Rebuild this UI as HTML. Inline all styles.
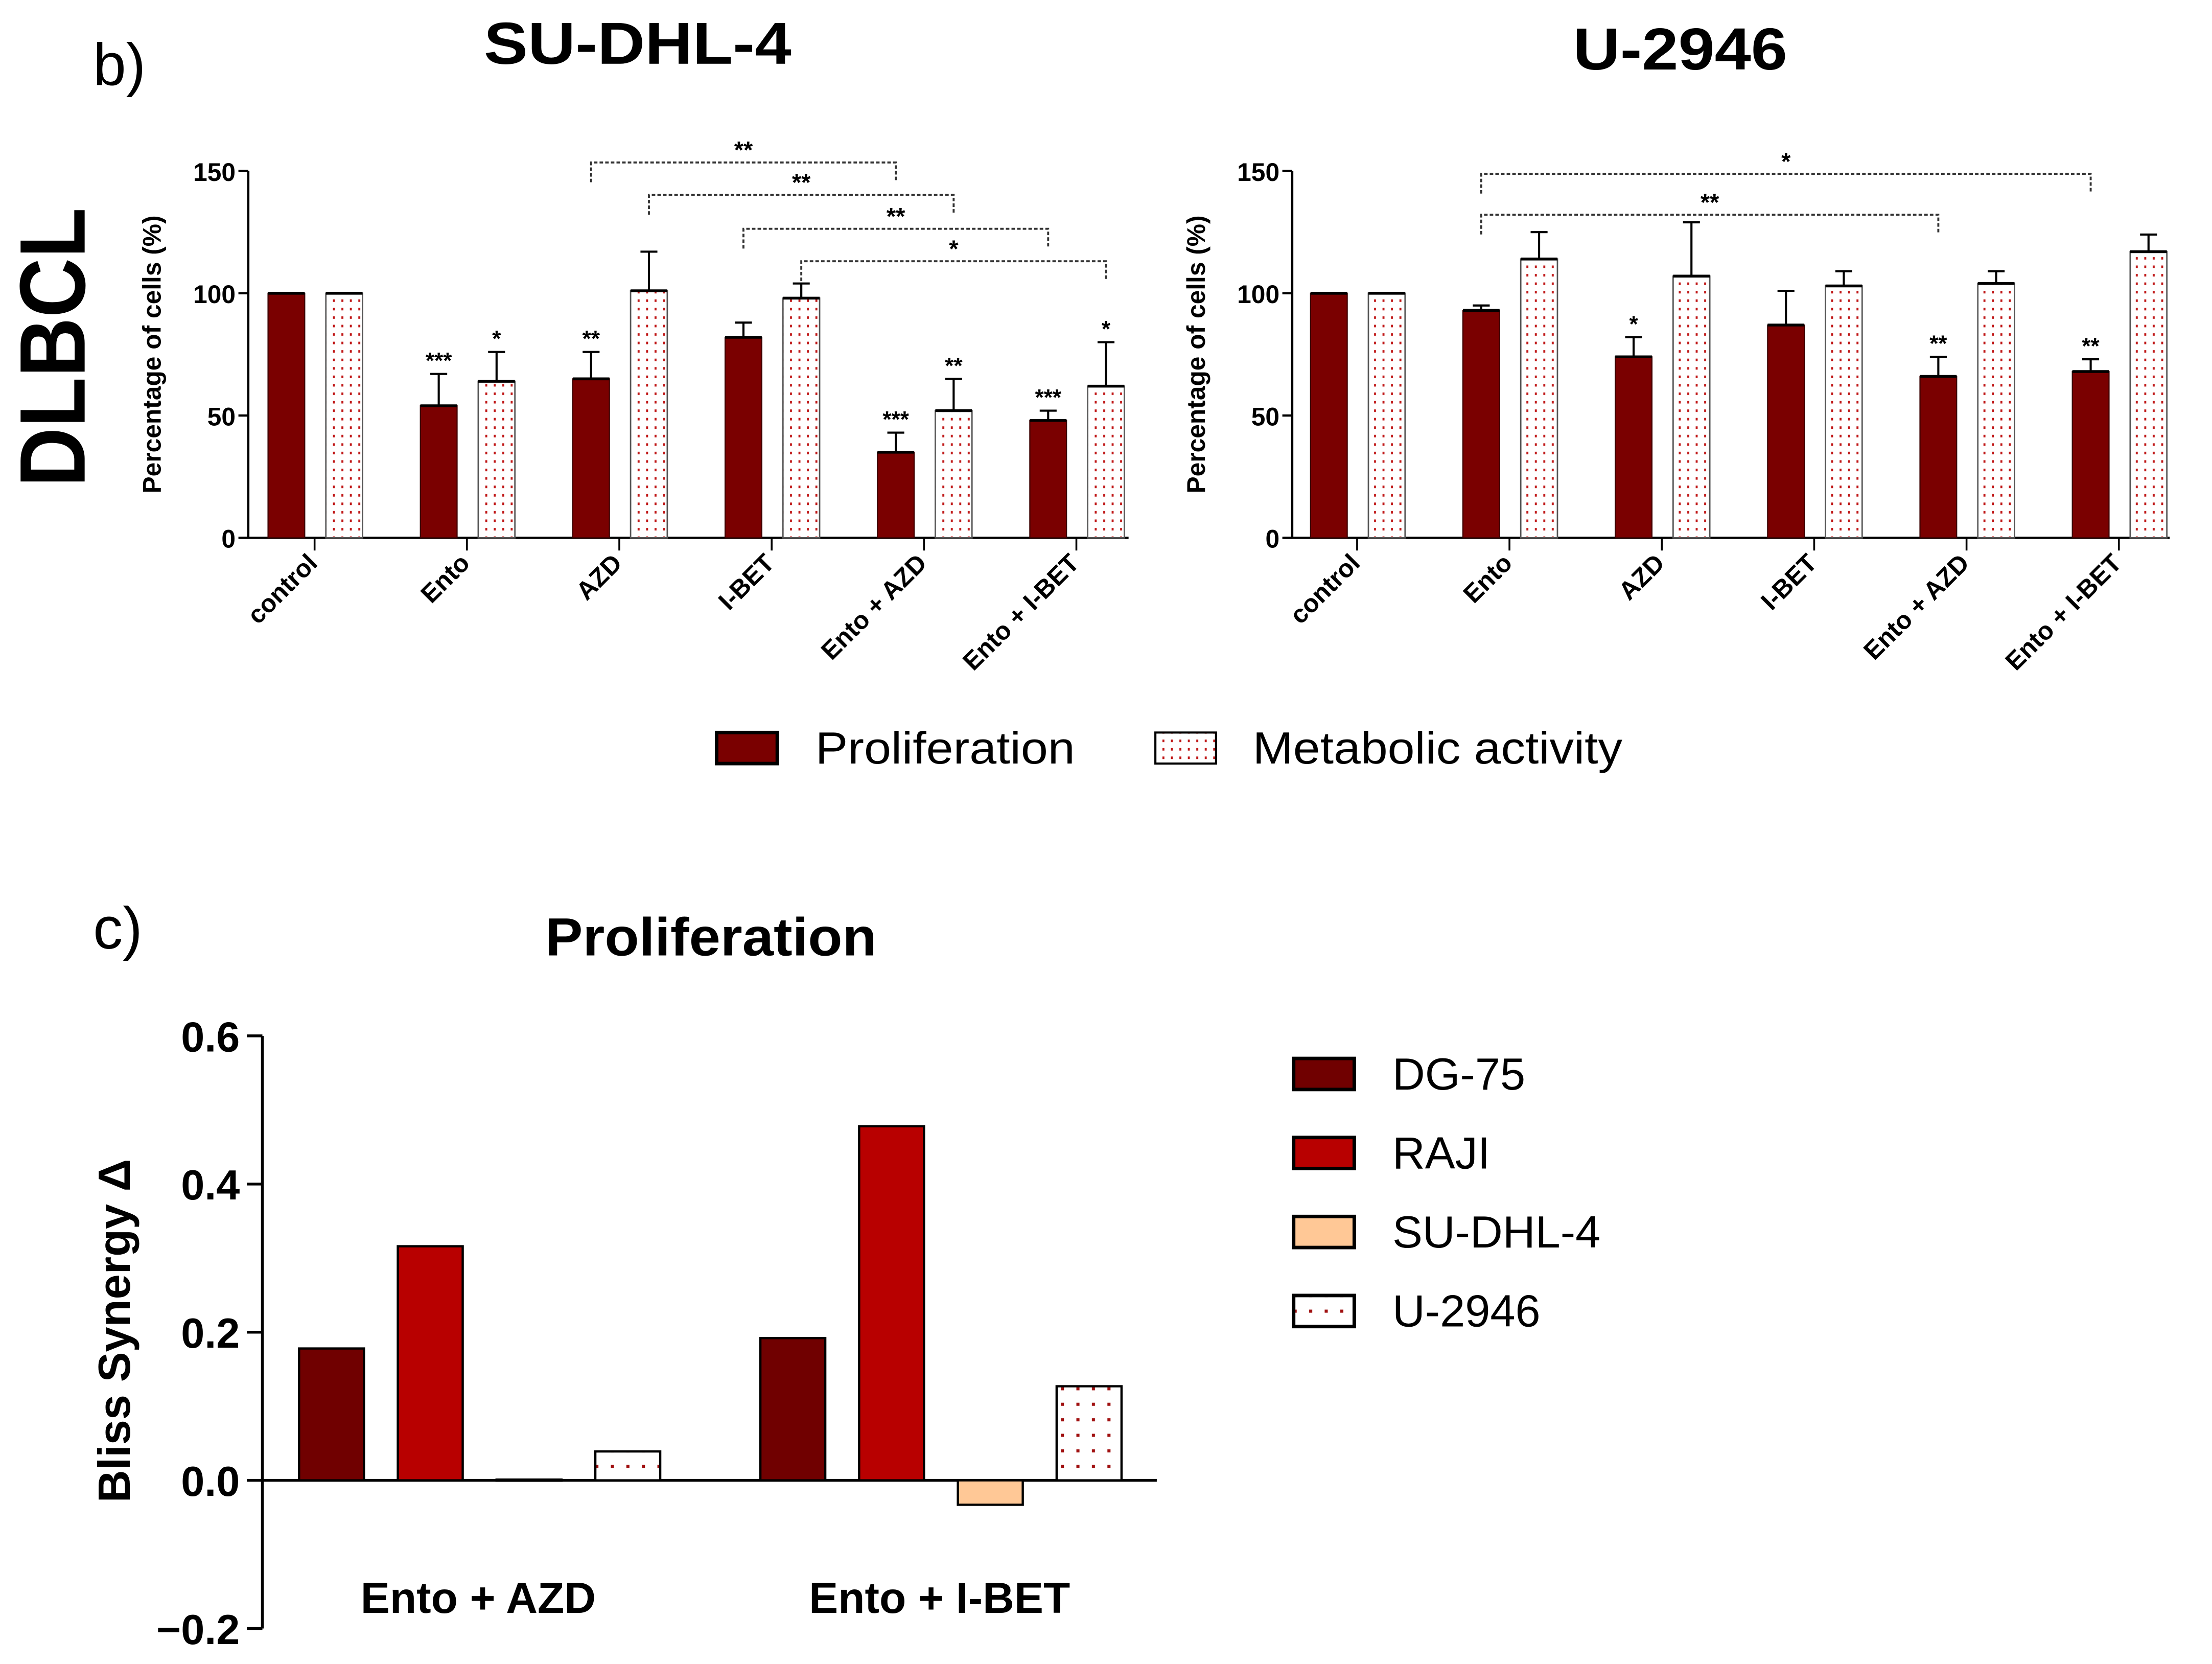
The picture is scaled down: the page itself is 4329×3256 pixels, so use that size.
<!DOCTYPE html>
<html><head><meta charset="utf-8"><style>html,body{margin:0;padding:0;background:#fff}svg{display:block}text{font-family:"Liberation Sans",sans-serif}</style></head>
<body>
<svg id="fig" xmlns="http://www.w3.org/2000/svg" width="4329" height="3256" viewBox="0 0 1568 1179">
<defs>
<pattern id="dots" patternUnits="userSpaceOnUse" width="6" height="6"><rect width="6" height="6" fill="#fff"/><rect x="2" y="2" width="1.4" height="1.8" fill="#c01818"/></pattern>
<pattern id="dots2" patternUnits="userSpaceOnUse" width="11" height="11"><rect width="11" height="11" fill="#fff"/><rect x="4" y="4" width="2.2" height="2.2" fill="#a01010"/></pattern>
</defs>
<rect width="1568" height="1179" fill="#fff"/>
<text x="66" y="60" font-size="42">b)</text>
<text x="66" y="672" font-size="42">c)</text>
<text transform="translate(60,246) rotate(-90)" text-anchor="middle" font-size="66" font-weight="bold" textLength="198" lengthAdjust="spacingAndGlyphs">DLBCL</text>
<text x="452" y="45" text-anchor="middle" font-size="42" font-weight="bold" textLength="218" lengthAdjust="spacingAndGlyphs">SU-DHL-4</text>
<text x="1191" y="49" text-anchor="middle" font-size="42" font-weight="bold" textLength="152" lengthAdjust="spacingAndGlyphs">U-2946</text>
<g id="left"></g><g id="right"></g><g id="bottom"></g>
<g>
<rect x="508" y="519" width="43" height="22" fill="#7a0000" stroke="#000" stroke-width="2.5"/>
<text x="578" y="541" font-size="32" textLength="184" lengthAdjust="spacingAndGlyphs">Proliferation</text>
<rect x="819" y="519" width="43" height="22" fill="url(#dots)" stroke="#000" stroke-width="1.5"/>
<text x="888" y="541" font-size="32" textLength="262" lengthAdjust="spacingAndGlyphs">Metabolic activity</text>
</g>
<text x="504" y="677" text-anchor="middle" font-size="38" font-weight="bold" textLength="235" lengthAdjust="spacingAndGlyphs">Proliferation</text>
</svg>
<script>
// SU-DHL-4 data
const cats = ['control','Ento','AZD','I-BET','Ento + AZD','Ento + I-BET'];
const suProlif = [100,54,65,82,35,48];
const suProlifErr = [0,13,11,6,8,4];
const suMetab = [100,64,101,98,52,62];
const suMetabErr = [0,12,16,6,13,18];
const suProlifStars = ['','***','**','','***','***'];
const suMetabStars = ['','*','','','**','*'];
// U-2946 data
const uProlif = [100,93,74,87,66,68];
const uProlifErr = [0,2,8,14,8,5];
const uMetab = [100,114,107,103,104,117];
const uMetabErr = [0,11,22,6,5,7];
const uProlifStars = ['','','*','','**','**'];
const uMetabStars = ['','','','','',''];
const yTicks = [0,50,100,150];
// brackets: [fromGroup, fromSeries(0 prolif/1 metab), toGroup, toSeries, label]
const suBrackets = [[2,0,4,0,'**'],[2,1,4,1,'**'],[3,0,5,0,'**'],[3,1,5,1,'*']];
const uBrackets = [[1,0,5,0,'*'],[1,0,4,0,'**']];
// Bliss synergy
const groups = ['Ento + AZD','Ento + I-BET'];
const lines = ['DG-75','RAJI','SU-DHL-4','U-2946'];
const blissAZD = [0.178,0.316,0.001,0.039];
const blissIBET = [0.192,0.478,-0.033,0.127];
const blissTicks = [-0.2,0.0,0.2,0.4,0.6];
const blissTickLabels = ['\u22120.2','0.0','0.2','0.4','0.6'];

const NS='http://www.w3.org/2000/svg';
function mk(parent,tag,attrs,txt){const e=document.createElementNS(NS,tag);for(const k in attrs)e.setAttribute(k,attrs[k]);if(txt!==undefined)e.textContent=txt;parent.appendChild(e);return e;}

function barChart(gid,axisX,c0,xEnd,prol,prolE,met,metE,pS,mS,brackets,brY,name){
  const g=document.getElementById(gid);
  
  
  const y=v=>381-v*260/150;
  const cx=i=>c0+108*i;
  const px=i=>cx(i)-33, mx=i=>cx(i)+8;
  let e=mk(g,'line',{x1:axisX,y1:121,x2:axisX,y2:381,stroke:'#000','stroke-width':1.6});
  
  
  e=mk(g,'line',{x1:axisX-6,y1:381,x2:xEnd,y2:381,stroke:'#000','stroke-width':1.6});
  
  
  yTicks.forEach(t=>{
    e=mk(g,'line',{x1:axisX-7,y1:y(t),x2:axisX,y2:y(t),stroke:'#000','stroke-width':1.6});
    
    
    e=mk(g,'text',{x:axisX-9,y:y(t)+7,'text-anchor':'end','font-size':18,'font-weight':'bold'},t);
    
    
  });
  e=mk(g,'text',{transform:`translate(${axisX-62},251) rotate(-90)`,'text-anchor':'middle','font-size':18,'font-weight':'bold'},'Percentage of cells (%)');
  
  
  cats.forEach((c,i)=>{
    e=mk(g,'line',{x1:cx(i),y1:381,x2:cx(i),y2:390,stroke:'#000','stroke-width':1.3});
    
    
    e=mk(g,'text',{transform:`translate(${cx(i)+3},400) rotate(-45)`,'text-anchor':'end','font-size':18,'font-weight':'bold'},c);
    
    
    [[prol,prolE,pS,px(i),'#7a0000',2,'proliferation'],[met,metE,mS,mx(i),'url(#dots)',1,'metabolic']].forEach(([v,er,st,x,fill,sw,nm])=>{
      if(er[i]>0){
        e=mk(g,'path',{d:`M${x+13},${y(v[i])} V${y(v[i]+er[i])} M${x+7},${y(v[i]+er[i])} H${x+19}`,stroke:'#000','stroke-width':1.5,fill:'none'});
        
        
      }
      e=mk(g,'rect',{x:x,y:y(v[i]),width:26,height:381-y(v[i]),fill:fill,stroke:sw===2?'#3a0000':'#555','stroke-width':sw===2?0.8:1});
      
      
      e=mk(g,'line',{x1:x,y1:y(v[i]),x2:x+26,y2:y(v[i]),stroke:'#000','stroke-width':2});
      
      
      if(st[i]){
        e=mk(g,'text',{x:x+13,y:y(v[i]+er[i])-4,'text-anchor':'middle','font-size':16,'font-weight':'bold'},st[i]);
        
        
      }
    });
  });
  brackets.forEach((b,k)=>{
    const x1=(b[1]?mx(b[0]):px(b[0]))+13, x2=(b[3]?mx(b[2]):px(b[2]))+13, yy=brY[k];
    e=mk(g,'path',{d:`M${x1},${yy+14} V${yy} H${x2} V${yy+14}`,stroke:'#333','stroke-width':1.4,fill:'none','stroke-dasharray':'2.5,1.5'});
    
    
    e=mk(g,'text',{x:(x1+x2)/2,y:yy-3,'text-anchor':'middle','font-size':17,'font-weight':'bold'},b[4]);
    
    
  });
}
barChart('left',176,223,800,suProlif,suProlifErr,suMetab,suMetabErr,suProlifStars,suMetabStars,suBrackets,[115,138,162,185],'chart-su-dhl-4');
barChart('right',916,962,1538,uProlif,uProlifErr,uMetab,uMetabErr,uProlifStars,uMetabStars,uBrackets,[123,152],'chart-u-2946');

(function(){
  const g=document.getElementById('bottom');
  
  
  const y=v=>1049-v*525;
  const fills=['#700000','#b80000','#ffc896','url(#dots2)'];
  let e=mk(g,'line',{x1:186,y1:y(-0.2),x2:186,y2:y(0.6),stroke:'#000','stroke-width':2});
  
  
  e=mk(g,'line',{x1:186,y1:1049,x2:820,y2:1049,stroke:'#000','stroke-width':2});
  
  
  blissTicks.forEach((t,i)=>{
    e=mk(g,'line',{x1:175,y1:y(t),x2:186,y2:y(t),stroke:'#000','stroke-width':2});
    
    
    e=mk(g,'text',{x:170,y:y(t)+11,'text-anchor':'end','font-size':30,'font-weight':'bold'},blissTickLabels[i]);
    
    
  });
  e=mk(g,'text',{transform:'translate(92,943) rotate(-90)','text-anchor':'middle','font-size':32,'font-weight':'bold'},'Bliss Synergy \u0394');
  
  
  [blissAZD,blissIBET].forEach((vals,gi)=>{
    const x0=212+327*gi;
    vals.forEach((v,i)=>{
      const x=x0+70*i, top=Math.min(y(v),y(0)), h=Math.max(Math.abs(y(v)-y(0)),0.8);
      e=mk(g,'rect',{x:x,y:top,width:46,height:h,fill:fills[i],stroke:'#000','stroke-width':1.6});
      
      
    });
    e=mk(g,'text',{x:339+327*gi,y:1143,'text-anchor':'middle','font-size':31,'font-weight':'bold'},groups[gi]);
    
    
  });
  lines.forEach((l,i)=>{
    e=mk(g,'rect',{x:917,y:750+56*i,width:43,height:22,fill:fills[i],stroke:'#000','stroke-width':2.5});
    
    
    e=mk(g,'text',{x:987,y:772+56*i,'font-size':32},l);
    
    
  });
})();
</script>
</body></html>
